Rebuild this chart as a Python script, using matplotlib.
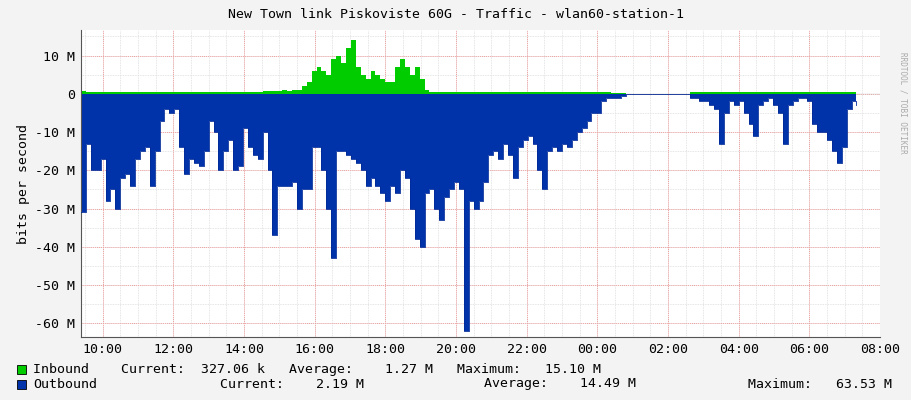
import numpy as np
import matplotlib
matplotlib.use("Agg")
import matplotlib.pyplot as plt

# hours since 00:00 of day 1; samples ~8.33 minutes apart starting 09:23
start_h = 9.39
step_h = 5/36
outbound_M = [-31,-13,-20,-20,-17,-28,-25,-30,-22,-21,-24,-17,-15,-14,-24,-15,-7,-4,-5,-4,
              -14,-21,-17,-18,-19,-15,-7,-10,-20,-15,-12,-20,-19,-9,-14,-16,-17,-10,-20,-37,
              -24,-24,-24,-23,-30,-25,-25,-14,-14,-20,-30,-43,-15,-15,-16,-17,-18,-20,-24,-22,
              -24,-26,-28,-24,-26,-20,-22,-30,-38,-40,-26,-25,-30,-33,-27,-25,-23,-25,-62,-28,
              -30,-28,-23,-16,-15,-17,-13,-16,-22,-14,-12,-11,-13,-20,-25,-15,-14,-15,-13,-14,
              -12,-10,-9,-7,-5,-5,-2,-1,-1,-1,-0.5,0,0,0,0,0,0,0,0,0,
              0,0,0,0,-1,-1,-2,-2,-3,-4,-13,-5,-2,-3,-2,-5,-8,-11,-3,-2,
              -1,-3,-5,-13,-3,-2,-1,-1,-2,-8,-10,-10,-12,-15,-18,-14,-4,-2,-3]
inbound_M = [0.8,0.6,0.6,0.5,0.5,0.6,0.5,0.5,0.5,0.6,0.5,0.5,0.5,0.5,0.5,0.5,0.5,0.5,0.5,0.5,
             0.5,0.5,0.5,0.5,0.5,0.5,0.5,0.5,0.5,0.5,0.5,0.5,0.5,0.5,0.5,0.5,0.6,0.8,0.8,0.7,
             0.8,0.9,0.8,0.9,1,2,3,6,7,6,5,9,10,8,12,14,7,5,4,6,
             5,4,3,3,7,9,7,5,7,4,1,0.5,0.5,0.5,0.5,0.5,0.5,0.5,0.5,0.5,
             0.5,0.5,0.5,0.5,0.5,0.5,0.5,0.5,0.5,0.5,0.5,0.5,0.5,0.5,0.5,0.5,0.5,0.5,0.5,0.5,
             0.5,0.5,0.5,0.5,0.5,0.5,0.5,0.4,0.3,0.2,0.1,0,0,0,0,0,0,0,0,0,
             0,0,0,0,0.5,0.5,0.5,0.5,0.5,0.5,0.5,0.5,0.5,0.5,0.5,0.5,0.5,0.5,0.5,0.5,
             0.5,0.5,0.5,0.5,0.5,0.5,0.5,0.5,0.5,0.5,0.5,0.5,0.5,0.5,0.5,0.5,0.5,0.5,0.5]
tick_hours = [10,12,14,16,18,20,22,24,26,28,30,32]
tick_labels = ["10:00","12:00","14:00","16:00","18:00","20:00","22:00","00:00","02:00","04:00","06:00","08:00"]
ytick_vals = [10,0,-10,-20,-30,-40,-50,-60]
ytick_labels = ["10 M","0","-10 M","-20 M","-30 M","-40 M","-50 M","-60 M"]

t = start_h + step_h*np.arange(len(outbound_M))
outb = np.array(outbound_M); inb = np.array(inbound_M)

mono = "DejaVu Sans Mono"
fig = plt.figure(figsize=(9.11, 4.0), dpi=100, facecolor="#f3f3f3")
ax = fig.add_axes([81/911, 63/400, 799/911, 307/400], facecolor="white")
xmin, xmax = start_h, start_h + 799/36
ax.set_xlim(xmin, xmax); ax.set_ylim(-63.6, 16.7)

# grids
for h in np.arange(9.5, xmax, 0.5):
    ax.axvline(h, color="#dddddd", lw=0.6, ls=(0,(1,1)), zorder=0)
for v in np.arange(-60, 17, 5):
    ax.axhline(v, color="#dddddd", lw=0.6, ls=(0,(1,1)), zorder=0)
for h in tick_hours:
    ax.axvline(h, color="#f0a0a0", lw=0.7, ls=(0,(1,1)), zorder=0)
for v in ytick_vals:
    ax.axhline(v, color="#f0a0a0", lw=0.7, ls=(0,(1,1)), zorder=0)

ax.fill_between(t, 0, inb, step="post", color="#00cc00", lw=0, zorder=2)
ax.fill_between(t, 0, outb, step="post", color="#0033aa", lw=0, zorder=2)
ax.step(t, outb, where="post", color="#002a97", lw=0.6, zorder=3)

ax.set_xticks(tick_hours); ax.set_xticklabels(tick_labels, family=mono, fontsize=9.5)
ax.set_yticks(ytick_vals); ax.set_yticklabels(ytick_labels, family=mono, fontsize=9.5)
ax.tick_params(length=0, pad=4)
for s in ["top","right"]:
    ax.spines[s].set_visible(False)
ax.spines["left"].set_color("#555555"); ax.spines["bottom"].set_color("#555555")
ax.axhline(0, color="#cccccc", lw=0.3, zorder=1)
ax.set_ylabel("bits per second", family=mono, fontsize=9.5)

fig.text(0.5, 1-14/400, "New Town link Piskoviste 60G - Traffic - wlan60-station-1",
         ha="center", va="center", family=mono, fontsize=9.5)
fig.text(903/911, 0.87, "RRDTOOL / TOBI OETIKER", rotation=270, ha="center", va="top",
         family=mono, fontsize=5.5, color="#aaaaaa")

fig.patches.append(plt.Rectangle((17/911, 1-374/400), 9/911, 9/400, transform=fig.transFigure,
                                 facecolor="#00cc00", edgecolor="black", lw=0.6))
fig.patches.append(plt.Rectangle((17/911, 1-389/400), 9/911, 9/400, transform=fig.transFigure,
                                 facecolor="#0033aa", edgecolor="black", lw=0.6))
fs = 9.5
fig.text(33/911, 1-369/400, "Inbound    Current:  327.06 k   Average:    1.27 M   Maximum:   15.10 M",
         va="center", family=mono, fontsize=fs)
fig.text(33/911, 1-384/400, "Outbound", va="center", family=mono, fontsize=fs)
fig.text(220/911, 1-384/400, "Current:    2.19 M", va="center", family=mono, fontsize=fs)
fig.text(484/911, 1-384/400, "Average:    14.49 M", va="center", family=mono, fontsize=fs)
fig.text(748/911, 1-384/400, "Maximum:   63.53 M", va="center", family=mono, fontsize=fs)

fig.savefig("out.png", dpi=100, facecolor=fig.get_facecolor())
